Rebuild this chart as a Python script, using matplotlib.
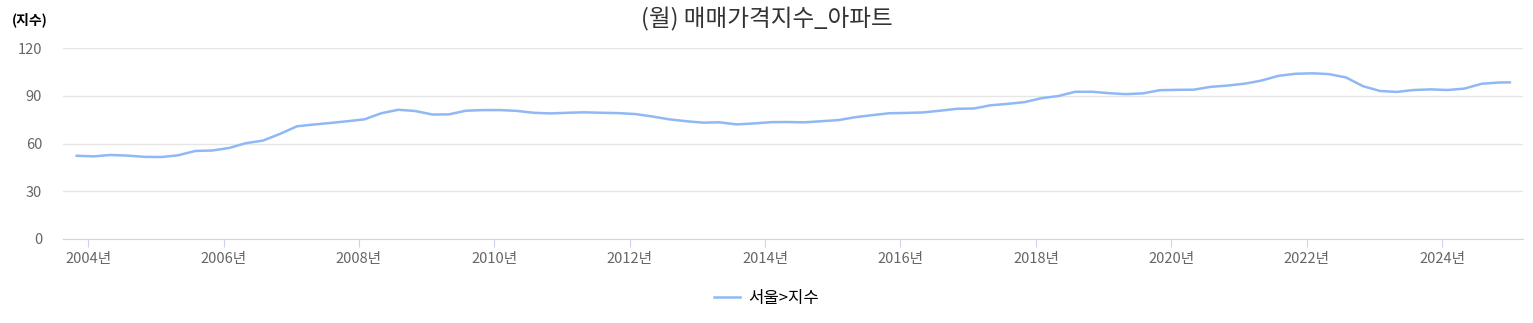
import pandas as pd
import matplotlib
matplotlib.use("Agg")
import matplotlib.pyplot as plt

plt.rcParams['font.family'] = ['Noto Sans CJK KR', 'DejaVu Sans']

# quarterly readings of the Seoul apartment sale price index
months = pd.date_range("2003-11-01", "2024-11-01", freq="3MS").tolist() + [pd.Timestamp("2025-01-01")]
seoul = [
    52.3, 51.9, 52.8, 52.4, 51.6, 51.5, 52.6, 55.3, 55.6,          # 2003-11 .. 2005-11
    57.2, 60.2, 61.8, 66.0, 70.8, 71.9, 72.9, 74.0,                # 2006-02 .. 2007-11
    75.2, 79.0, 81.2, 80.4, 78.2, 78.3, 80.6, 81.0,                # 2008-02 .. 2009-11
    81.0, 80.5, 79.3, 78.9, 79.3, 79.6, 79.3, 79.1,                # 2010-02 .. 2011-11
    78.5, 77.0, 75.2, 74.0, 73.1, 73.3, 72.0, 72.6,                # 2012-02 .. 2013-11
    73.4, 73.5, 73.3, 74.0, 74.7, 76.5, 77.8, 79.0,                # 2014-02 .. 2015-11
    79.2, 79.5, 80.6, 81.8, 82.0, 84.0, 84.9, 86.0,                # 2016-02 .. 2017-11
    88.5, 89.8, 92.5, 92.5, 91.6, 91.0, 91.5, 93.5,                # 2018-02 .. 2019-11
    93.7, 93.8, 95.6, 96.4, 97.6, 99.5, 102.5, 103.8,              # 2020-02 .. 2021-11
    104.1, 103.6, 101.5, 96.0, 93.0, 92.4, 93.6, 94.0,             # 2022-02 .. 2023-11
    93.6, 94.5, 97.5, 98.3, 98.4,                                  # 2024-02 .. 2025-01
]
years = list(range(2004, 2025, 2))
year_labels = [f"{y}년" for y in years]
y_ticks = [0, 30, 60, 90, 120]

fig = plt.figure(figsize=(15.33, 3.23), dpi=100)
ax = fig.add_axes([63/1533, 84/323, 1460/1533, 191/323])

ax.plot(months, seoul, color="#8fb8f5", linewidth=1.8, label="서울>지수")

ax.set_ylim(0, 120)
ax.set_yticks(y_ticks)
ax.set_xlim(pd.Timestamp("2003-08-19"), pd.Timestamp("2025-03-13"))
ax.set_xticks([pd.Timestamp(f"{y}-01-01") for y in years])
ax.set_xticklabels(year_labels)

ax.grid(axis="y", color="#e6e6e6", linewidth=1)
ax.set_axisbelow(True)
for s in ["top", "right", "left"]:
    ax.spines[s].set_visible(False)
ax.spines["bottom"].set_color("#ccd6eb")
ax.tick_params(axis="y", length=0, pad=15, labelsize=10.5, labelcolor="#666666")
ax.tick_params(axis="x", length=6, color="#ccd6eb", pad=3, labelsize=10.5, labelcolor="#666666")

fig.text(0.5, 0.94, "(월) 매매가격지수_아파트", ha="center", va="center", fontsize=17, color="#333333")
fig.text(12/1533, 0.94, "(지수)", ha="left", va="center", fontsize=10, fontweight="bold", color="#000000")

fig.legend(loc="center", bbox_to_anchor=(0.5, 25/323), frameon=False, fontsize=12,
           handlelength=1.6, handletextpad=0.5)

fig.savefig("out.png", dpi=100)
